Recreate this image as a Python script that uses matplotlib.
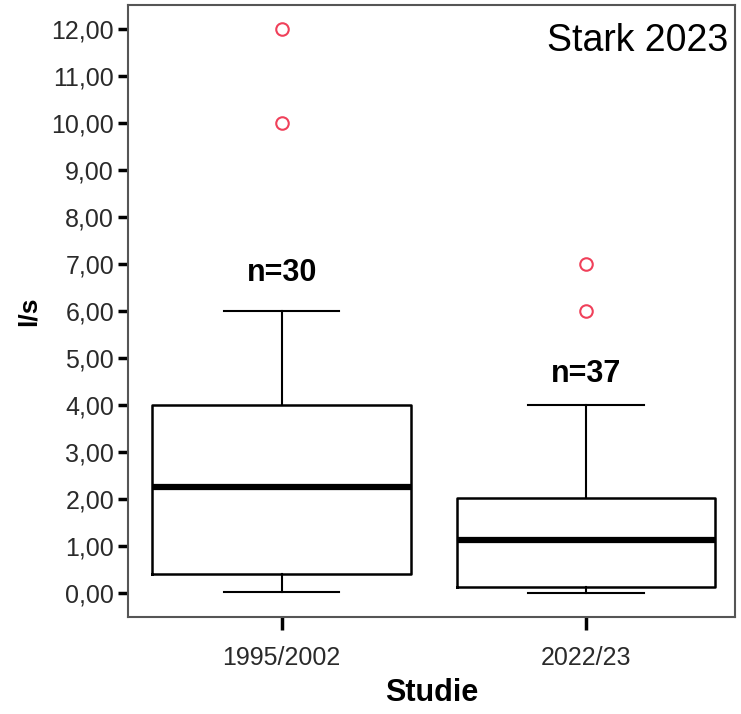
import matplotlib.pyplot as plt

# group labels and box statistics (l/s)
groups = ["1995/2002", "2022/23"]
n_labels = ["n=30", "n=37"]
q1 = [0.40, 0.13]
median = [2.25, 1.12]
q3 = [4.00, 2.02]
whislo = [0.03, -0.01]
whishi = [6.00, 4.00]
outliers = [[10.0, 12.0], [6.0, 7.0]]
n_text_y = [6.8, 4.65]

plt.rcParams['font.family'] = ['Liberation Sans', 'DejaVu Sans']

fig = plt.figure(figsize=(7.41, 7.14), dpi=100)
ax = fig.add_axes([0.1727, 0.1359, 0.8193, 0.857])

stats = []
for i in range(len(groups)):
    stats.append(dict(label=groups[i], q1=q1[i], med=median[i], q3=q3[i],
                      whislo=whislo[i], whishi=whishi[i], fliers=outliers[i]))

pos = list(range(1, len(groups) + 1))
ax.bxp(stats, positions=pos, widths=0.85, showfliers=True,
       boxprops=dict(color='black', linewidth=1.8),
       medianprops=dict(color='black', linewidth=4.5, solid_capstyle='butt'),
       whiskerprops=dict(color='black', linewidth=1.5),
       capprops=dict(color='black', linewidth=1.5),
       capwidths=0.38,
       flierprops=dict(marker='o', markersize=9, markerfacecolor='none',
                       markeredgecolor='#f0405a', markeredgewidth=1.5))

for p, t, y in zip(pos, n_labels, n_text_y):
    ax.text(p, y, t, ha='center', va='center', fontsize=22, fontweight='bold')

ax.text(0.988, 0.97, "Stark 2023", transform=ax.transAxes, ha='right', va='top',
        fontsize=27)

ax.set_xlim(0.495, 2.49)
ax.set_ylim(-0.51, 12.51)
ax.set_yticks(range(0, 13))
ax.set_yticklabels(["%d,00" % v for v in range(0, 13)])
ax.set_xticks(pos)
ax.set_xticklabels(groups)
ax.tick_params(axis='both', labelsize=18, labelcolor='#2a2a2a', width=2.5,
               color='black')
ax.tick_params(axis='y', length=7, pad=3)
ax.tick_params(axis='x', length=9, pad=12)

for s in ax.spines.values():
    s.set_color('#555555')
    s.set_linewidth(1.5)

ax.set_xlabel("Studie", fontsize=22, fontweight='bold', labelpad=6)
ax.set_ylabel("l/s", fontsize=19, fontweight='bold', labelpad=8)

fig.savefig("out.png", dpi=100)
